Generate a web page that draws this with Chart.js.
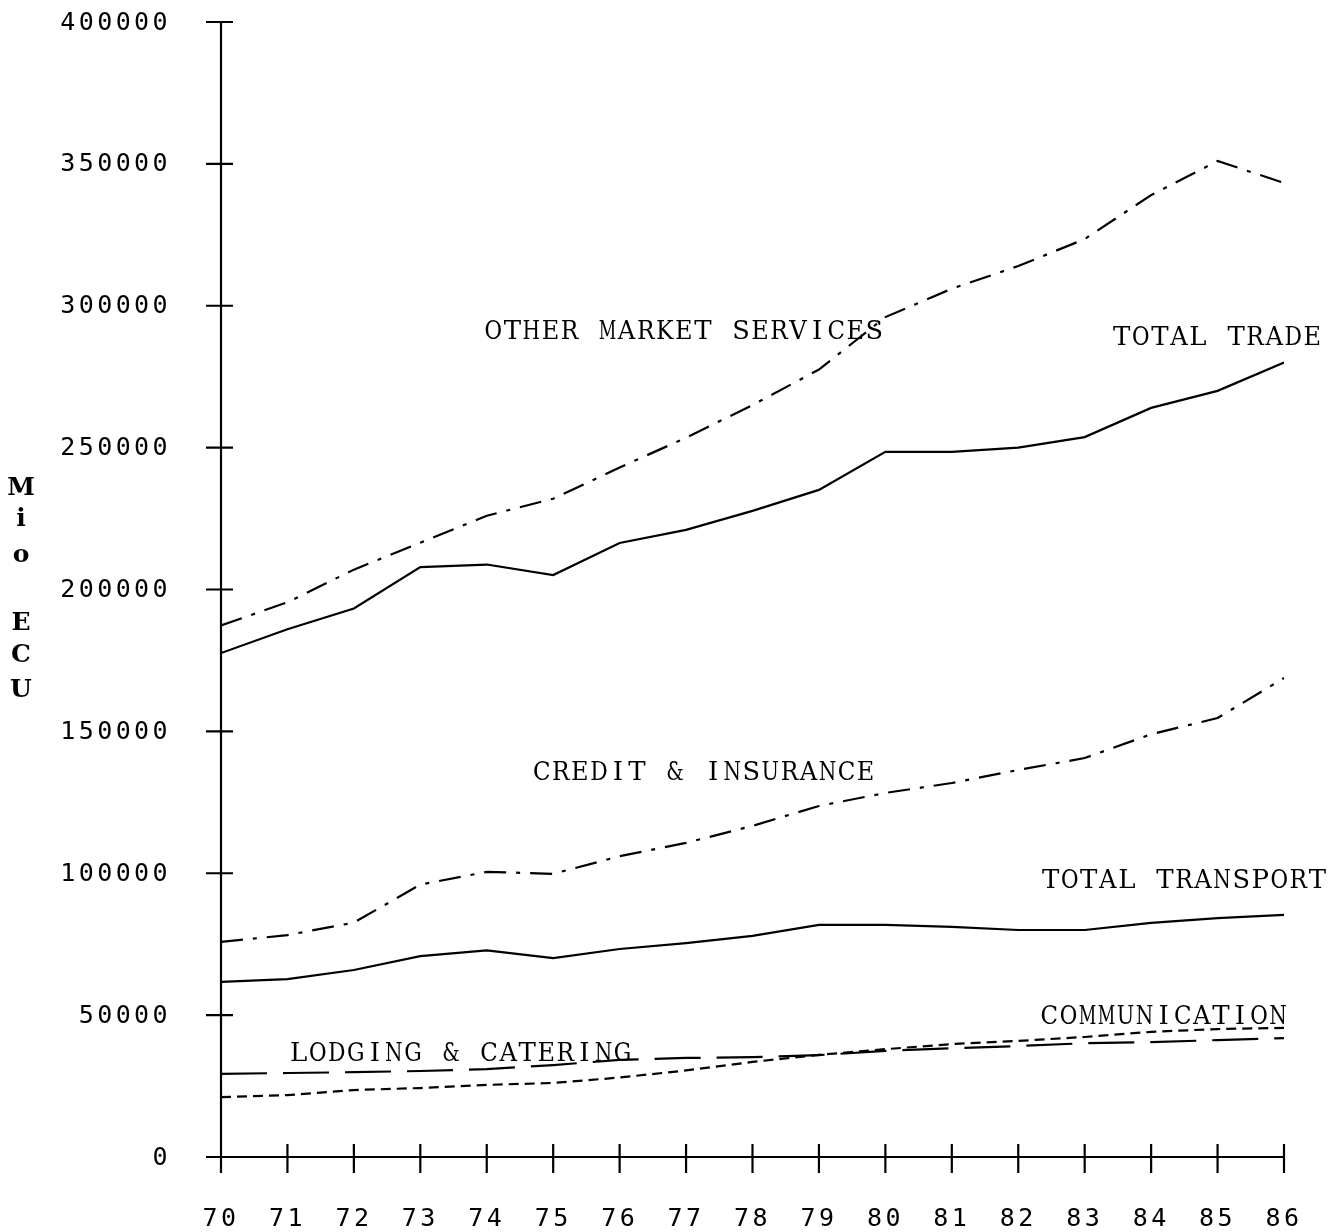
<!DOCTYPE html>
<html>
<head>
<meta charset="utf-8">
<script src="https://cdn.jsdelivr.net/npm/chart.js"></script>
<style>
  html, body { margin: 0; padding: 0; background: #fff; }
  #wrap { width: 1332px; height: 1232px; }
</style>
</head>
<body>
<div id="wrap"><canvas id="chart" width="1332" height="1232"></canvas></div>
<script>
// data (Mio ECU)
const years = [70, 71, 72, 73, 74, 75, 76, 77, 78, 79, 80, 81, 82, 83, 84, 85, 86];
const otherMarket = [187300, 195500, 207000, 216500, 226000, 232000, 243000, 253500, 265000, 277500, 296000, 306000, 314000, 323500, 339000, 351000, 343300];
const totalTrade = [177600, 186000, 193300, 207900, 208800, 205100, 216400, 221000, 227700, 235100, 248500, 248500, 250000, 253700, 264000, 270000, 280000];
const creditInsurance = [75800, 78200, 82600, 96000, 100500, 99800, 106000, 110700, 116700, 123700, 128300, 131800, 136400, 140600, 149000, 154700, 168800];
const totalTransport = [61700, 62700, 65900, 70800, 72800, 70100, 73300, 75400, 77900, 81800, 81800, 81100, 80000, 80000, 82500, 84200, 85300];
const lodging = [29300, 29600, 29900, 30300, 31000, 32400, 34200, 34900, 35200, 35900, 37400, 38300, 39100, 40100, 40500, 41200, 41900];
const communication = [21100, 21800, 23600, 24300, 25400, 26100, 28000, 30500, 33500, 36000, 38000, 39800, 40900, 42300, 44100, 45100, 45500];
const yTicks = [0, 50000, 100000, 150000, 200000, 250000, 300000, 350000, 400000];

// series labels, anchored in data units (left edge x, middle y)
const seriesLabels = [
  { text: 'OTHER MARKET SERVICES', x: 73.97, y: 291000 },
  { text: 'TOTAL TRADE', x: 83.43, y: 289000 },
  { text: 'CREDIT & INSURANCE', x: 74.70, y: 135700 },
  { text: 'TOTAL TRANSPORT', x: 82.36, y: 97600 },
  { text: 'COMMUNICATION', x: 82.34, y: 49700 },
  { text: 'LODGING & CATERING', x: 71.04, y: 36700 }
];

function pts(values) {
  return years.map((yr, i) => ({ x: yr, y: values[i] }));
}

function series(label, values, dash) {
  return {
    label,
    data: pts(values),
    borderColor: '#000',
    borderWidth: 2.2,
    borderDash: dash,
    pointRadius: 0,
    tension: 0,
    fill: false
  };
}

// one glyph per fixed-width cell, like the old plotter font
function monoText(ctx, text, x, y, pitch) {
  ctx.textAlign = 'center';
  for (let i = 0; i < text.length; i++) {
    ctx.fillText(text[i], x + pitch * (i + 0.5) - 1, y, pitch - 1.5);
  }
}

// axes, ticks and texts drawn by hand so they look like the old plotter output
const decorations = {
  id: 'decorations',
  afterDraw(chart) {
    const ctx = chart.ctx;
    const xs = chart.scales.x;
    const ys = chart.scales.y;
    const x0 = xs.getPixelForValue(70);
    const x1 = xs.getPixelForValue(86);
    const y0 = ys.getPixelForValue(0);
    const yTop = ys.getPixelForValue(400000);

    ctx.save();
    ctx.strokeStyle = '#000';
    ctx.lineWidth = 2.2;
    ctx.beginPath();
    ctx.moveTo(x0, yTop);
    ctx.lineTo(x0, y0 + 16);
    ctx.moveTo(x0 - 15, y0);
    ctx.lineTo(x1, y0);
    yTicks.forEach(v => {
      const py = ys.getPixelForValue(v);
      ctx.moveTo(x0 - 15, py);
      ctx.lineTo(x0 + 12, py);
    });
    years.forEach(yr => {
      const px = xs.getPixelForValue(yr);
      ctx.moveTo(px, y0 - 13);
      ctx.lineTo(px, y0 + 16);
    });
    ctx.stroke();

    // tick labels
    ctx.fillStyle = '#000';
    ctx.font = '25px "DejaVu Sans Mono"';
    ctx.letterSpacing = '3.4px';
    ctx.textAlign = 'right';
    ctx.textBaseline = 'middle';
    yTicks.forEach(v => {
      ctx.fillText(String(v), 171, ys.getPixelForValue(v) + 1);
    });
    ctx.textAlign = 'center';
    years.forEach(yr => {
      ctx.fillText(String(yr), xs.getPixelForValue(yr), 1219);
    });
    ctx.letterSpacing = '0px';

    // series labels
    ctx.font = '26px "DejaVu Serif"';
    seriesLabels.forEach(l => {
      monoText(ctx, l.text, xs.getPixelForValue(l.x), ys.getPixelForValue(l.y) + 1, 19.05);
    });

    // vertical axis title
    ctx.font = 'bold 25px "DejaVu Serif"';
    ctx.textAlign = 'center';
    const title = [['M', 488], ['i', 519], ['o', 555], ['E', 623], ['C', 655], ['U', 690]];
    title.forEach(([ch, py]) => ctx.fillText(ch, 21, py));
    ctx.restore();
  }
};

new Chart(document.getElementById('chart'), {
  type: 'line',
  data: {
    datasets: [
      series('OTHER MARKET SERVICES', otherMarket, [22, 10, 4, 10]),
      series('TOTAL TRADE', totalTrade, []),
      series('CREDIT & INSURANCE', creditInsurance, [22, 10, 4, 10]),
      series('TOTAL TRANSPORT', totalTransport, []),
      series('LODGING & CATERING', lodging, [46, 16]),
      series('COMMUNICATION', communication, [10, 6])
    ]
  },
  options: {
    responsive: false,
    animation: false,
    layout: { padding: { left: 213, right: 48, top: 22, bottom: 67 } },
    plugins: { legend: { display: false }, tooltip: { enabled: false } },
    scales: {
      x: {
        type: 'linear', min: 70, max: 86,
        ticks: { display: false }, grid: { display: false }, border: { display: false }
      },
      y: {
        min: 0, max: 400000,
        ticks: { display: false }, grid: { display: false }, border: { display: false }
      }
    }
  },
  plugins: [decorations]
});
</script>
</body>
</html>
